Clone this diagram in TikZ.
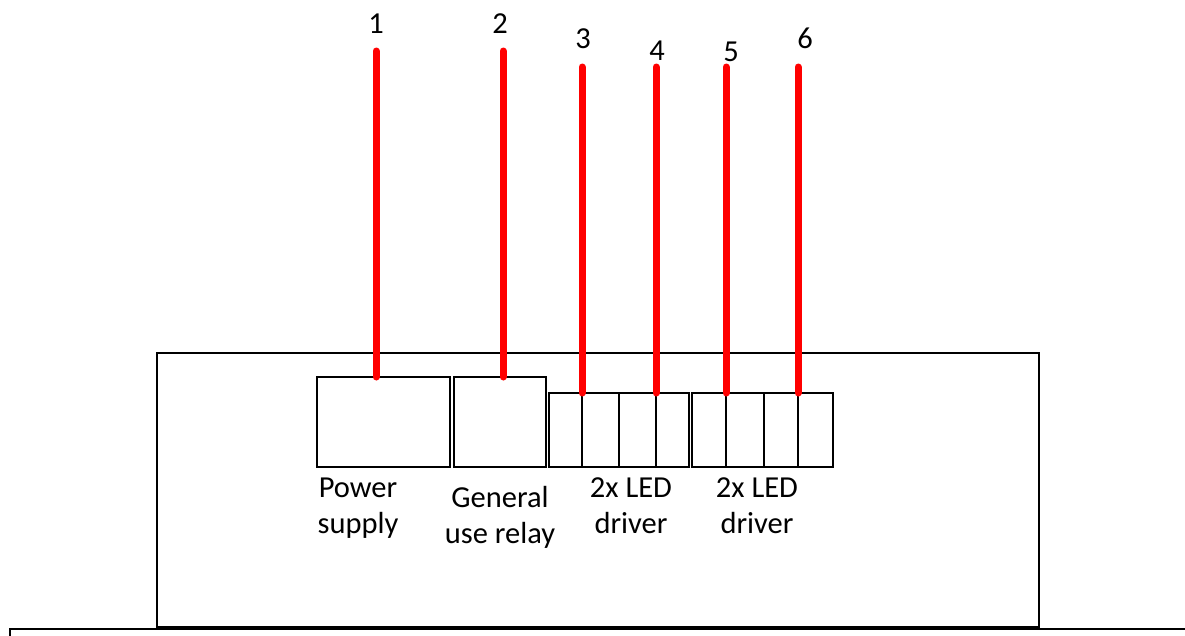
\documentclass[tikz,border=0pt]{standalone}
\usepackage{fontspec}
\setmainfont{Carlito}
\begin{document}
\begin{tikzpicture}[x=1pt,y=-1pt,
  box/.style={draw=black,line width=1.6pt,inner sep=0pt,outer sep=0pt,anchor=north west},
  wire/.style={draw=red,line width=7pt,line cap=round},
  lbl/.style={inner sep=0pt,align=center,anchor=base,font=\fontsize{30.5}{36.5}\selectfont},
  num/.style={inner sep=0pt,anchor=base,font=\fontsize{30.5}{36.5}\selectfont}]
\useasboundingbox (0,0) rectangle (1185,635);
\clip (0,0) rectangle (1185,635);
% housing
\node[box,minimum width=882pt,minimum height=274pt] (housing) at (157,353) {};
\node[box,minimum width=1300pt,minimum height=100pt] (base) at (10,629) {};
% modules
\node[box,minimum width=133pt,minimum height=90pt] (psu) at (317,377) {};
\node[box,minimum width=92pt,minimum height=90pt] (relay) at (454,377) {};
\node[box,minimum width=33pt,minimum height=74pt] (a1) at (549,393) {};
\node[box,minimum width=37pt,minimum height=74pt] (a2) at (582,393) {};
\node[box,minimum width=37pt,minimum height=74pt] (a3) at (619,393) {};
\node[box,minimum width=33pt,minimum height=74pt] (a4) at (656,393) {};
\node[box,minimum width=34pt,minimum height=74pt] (b1) at (692,393) {};
\node[box,minimum width=38pt,minimum height=74pt] (b2) at (726,393) {};
\node[box,minimum width=34pt,minimum height=74pt] (b3) at (764,393) {};
\node[box,minimum width=35pt,minimum height=74pt] (b4) at (798,393) {};
% wire tops
\coordinate (t1) at (376,51);
\coordinate (t2) at (503,51);
\coordinate (t3) at (582,67);
\coordinate (t4) at (656,67);
\coordinate (t5) at (726,67);
\coordinate (t6) at (798,67);
\draw[wire] (t1) -- (t1 |- psu.north);
\draw[wire] (t2) -- (t2 |- relay.north);
\draw[wire] (t3) -- (a1.north east);
\draw[wire] (t4) -- (a3.north east);
\draw[wire] (t5) -- (b1.north east);
\draw[wire] (t6) -- (b3.north east);
% numbers
\node[num] (n1) at (376,33) {1};
\node[num] (n2) at (500,33) {2};
\node[num] (n3) at (583,48) {3};
\node[num] (n4) at (657,60) {4};
\node[num] (n5) at (731,61) {5};
\node[num] (n6) at (805,48) {6};
% labels (anchor=base is the baseline of the last line)
\node[lbl] (lpsu) at (358,533.5) {Power\\supply};
\node[lbl] (lrelay) at (500,543.5) {General\\use relay};
\node[lbl] (lled1) at (631,533.5) {2x LED\\driver};
\node[lbl] (lled2) at (757,533.5) {2x LED\\driver};
\end{tikzpicture}
\end{document}
